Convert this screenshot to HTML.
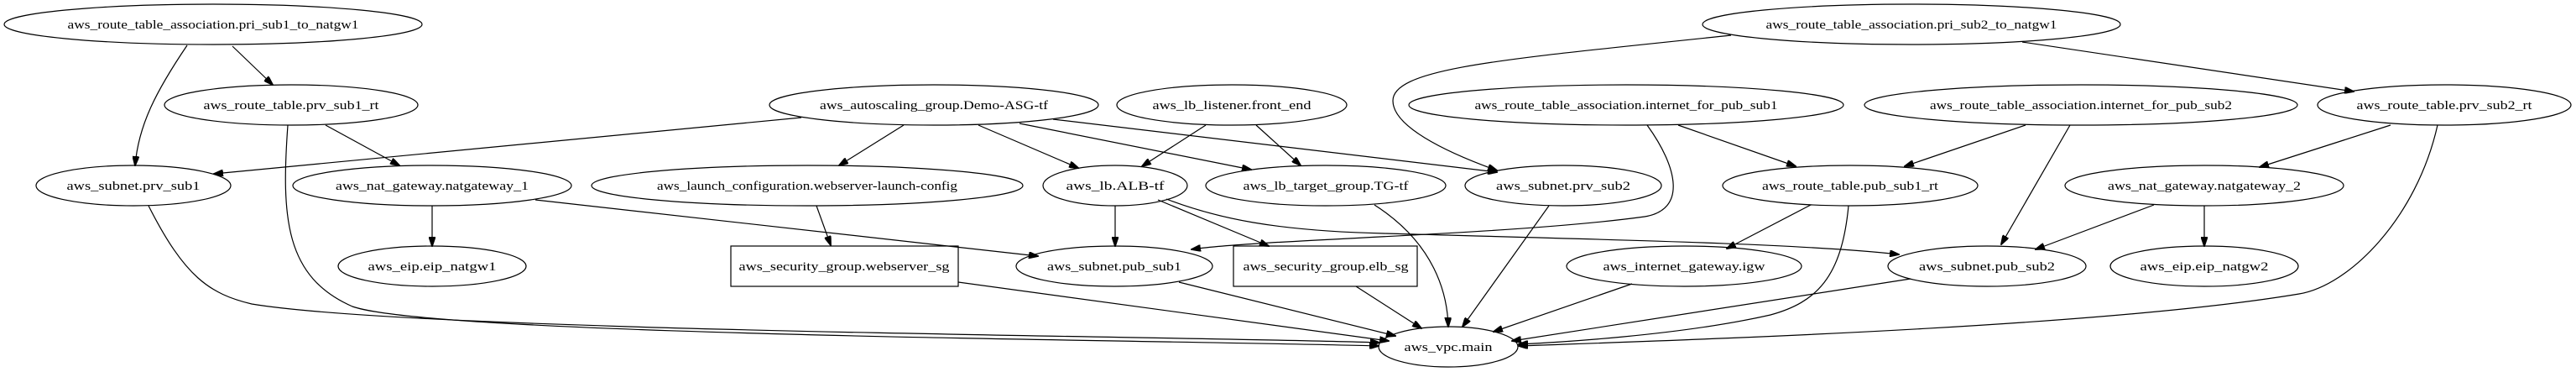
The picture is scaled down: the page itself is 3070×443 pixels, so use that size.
<!DOCTYPE html>
<html><head><meta charset="utf-8"><style>
html,body{margin:0;padding:0;background:#fff;}
svg{display:block;}
text{font-family:"Liberation Serif",serif;font-size:15px;text-anchor:middle;fill:#000;}
ellipse,rect{fill:none;stroke:#000;stroke-width:1.2;}
path{fill:none;stroke:#000;stroke-width:1.2;}
</style></head><body>
<svg width="3070" height="443" viewBox="0 0 3070 443" xmlns="http://www.w3.org/2000/svg">
<defs><marker id="a" markerWidth="12" markerHeight="8" refX="11" refY="4" orient="auto" markerUnits="userSpaceOnUse"><path d="M0,0 L12,4 L0,8 Z" style="fill:#000;stroke:#000"/></marker></defs>
<g marker-end="url(#a)">
<path d="M277,55 L325,101"/>
<path d="M223,54 C185,110 165,150 161,197"/>
<path d="M388,149 L476,197"/>
<path d="M343,149 C335,260 340,330 420,365 C520,400 1400,405 1643,412"/>
<path d="M177,245 C220,330 250,350 300,362 C500,395 1400,400 1644,408"/>
<path d="M955,140 L255,207"/>
<path d="M1077,149 L1000,197"/>
<path d="M1166,149 L1285,200"/>
<path d="M1215,147 L1491,202"/>
<path d="M1255,142 L1784,205"/>
<path d="M1437,149 L1361,198"/>
<path d="M1497,149 L1550,197"/>
<path d="M2063,42 C1800,70 1660,80 1660,120 C1660,150 1720,180 1784,203"/>
<path d="M2410,50 L2805,109"/>
<path d="M2000,149 L2140,198"/>
<path d="M1963,149 C2000,200 2010,250 1960,258 C1800,280 1500,285 1420,297"/>
<path d="M2414,149 L2270,198"/>
<path d="M2467,149 L2385,291"/>
<path d="M2849,149 L2693,199"/>
<path d="M2905,149 C2880,260 2800,340 2740,350 C2500,390 2000,405 1810,412"/>
<path d="M638,238 L1237,305"/>
<path d="M515,245 L515,293"/>
<path d="M973,245 L990,292"/>
<path d="M1329,245 L1329,293"/>
<path d="M1380,238 L1512,293"/>
<path d="M1390,237 C1450,260 1520,275 1650,278 C1900,285 2150,290 2263,303"/>
<path d="M1638,244 C1710,290 1725,350 1726,389"/>
<path d="M1846,245 L1743,389"/>
<path d="M2158,244 L2058,296"/>
<path d="M2203,245 C2195,330 2165,360 2110,375 C2000,400 1850,408 1810,410"/>
<path d="M2567,244 L2426,297"/>
<path d="M2627,245 L2627,293"/>
<path d="M1142,336 L1655,406"/>
<path d="M1405,336 L1663,400"/>
<path d="M1616,341 L1694,391"/>
<path d="M1945,338 L1780,395"/>
<path d="M2277,332 L1802,406"/>
</g>
<g style="fill:#fff">
<ellipse cx="254" cy="29" rx="249" ry="24"/><text x="254" y="34" textLength="347" lengthAdjust="spacingAndGlyphs">aws_route_table_association.pri_sub1_to_natgw1</text>
<ellipse cx="2278" cy="29" rx="249" ry="24"/><text x="2278" y="34" textLength="347" lengthAdjust="spacingAndGlyphs">aws_route_table_association.pri_sub2_to_natgw1</text>
<ellipse cx="347" cy="125" rx="151" ry="24"/><text x="347" y="130" textLength="209" lengthAdjust="spacingAndGlyphs">aws_route_table.prv_sub1_rt</text>
<ellipse cx="1113" cy="125" rx="196" ry="24"/><text x="1113" y="130" textLength="272" lengthAdjust="spacingAndGlyphs">aws_autoscaling_group.Demo-ASG-tf</text>
<ellipse cx="1468" cy="125" rx="137" ry="24"/><text x="1468" y="130" textLength="189" lengthAdjust="spacingAndGlyphs">aws_lb_listener.front_end</text>
<ellipse cx="1938" cy="125" rx="259" ry="24"/><text x="1938" y="130" textLength="361" lengthAdjust="spacingAndGlyphs">aws_route_table_association.internet_for_pub_sub1</text>
<ellipse cx="2480" cy="125" rx="258" ry="24"/><text x="2480" y="130" textLength="360" lengthAdjust="spacingAndGlyphs">aws_route_table_association.internet_for_pub_sub2</text>
<ellipse cx="2913" cy="125" rx="151" ry="24"/><text x="2913" y="130" textLength="209" lengthAdjust="spacingAndGlyphs">aws_route_table.prv_sub2_rt</text>
<ellipse cx="159" cy="221" rx="116" ry="24"/><text x="159" y="226" textLength="159" lengthAdjust="spacingAndGlyphs">aws_subnet.prv_sub1</text>
<ellipse cx="515" cy="221" rx="166" ry="24"/><text x="515" y="226" textLength="230" lengthAdjust="spacingAndGlyphs">aws_nat_gateway.natgateway_1</text>
<ellipse cx="962" cy="221" rx="257" ry="24"/><text x="962" y="226" textLength="358" lengthAdjust="spacingAndGlyphs">aws_launch_configuration.webserver-launch-config</text>
<ellipse cx="1329" cy="221" rx="86" ry="24"/><text x="1329" y="226" textLength="117" lengthAdjust="spacingAndGlyphs">aws_lb.ALB-tf</text>
<ellipse cx="1580" cy="221" rx="143" ry="24"/><text x="1580" y="226" textLength="197" lengthAdjust="spacingAndGlyphs">aws_lb_target_group.TG-tf</text>
<ellipse cx="1863" cy="221" rx="117" ry="24"/><text x="1863" y="226" textLength="160" lengthAdjust="spacingAndGlyphs">aws_subnet.prv_sub2</text>
<ellipse cx="2205" cy="221" rx="152" ry="24"/><text x="2205" y="226" textLength="210" lengthAdjust="spacingAndGlyphs">aws_route_table.pub_sub1_rt</text>
<ellipse cx="2627" cy="221" rx="166" ry="24"/><text x="2627" y="226" textLength="230" lengthAdjust="spacingAndGlyphs">aws_nat_gateway.natgateway_2</text>
<ellipse cx="515" cy="317" rx="112" ry="24"/><text x="515" y="322" textLength="153" lengthAdjust="spacingAndGlyphs">aws_eip.eip_natgw1</text>
<rect x="871" y="293" width="271" height="48"/><text x="1006" y="322" textLength="251" lengthAdjust="spacingAndGlyphs">aws_security_group.webserver_sg</text>
<ellipse cx="1328" cy="317" rx="117" ry="24"/><text x="1328" y="322" textLength="160" lengthAdjust="spacingAndGlyphs">aws_subnet.pub_sub1</text>
<rect x="1470" y="293" width="219" height="48"/><text x="1580" y="322" textLength="197" lengthAdjust="spacingAndGlyphs">aws_security_group.elb_sg</text>
<ellipse cx="2007" cy="317" rx="140" ry="24"/><text x="2007" y="322" textLength="193" lengthAdjust="spacingAndGlyphs">aws_internet_gateway.igw</text>
<ellipse cx="2368" cy="317" rx="118" ry="24"/><text x="2368" y="322" textLength="162" lengthAdjust="spacingAndGlyphs">aws_subnet.pub_sub2</text>
<ellipse cx="2627" cy="317" rx="112" ry="24"/><text x="2627" y="322" textLength="153" lengthAdjust="spacingAndGlyphs">aws_eip.eip_natgw2</text>
<ellipse cx="1726" cy="413" rx="83" ry="24"/><text x="1726" y="418" textLength="105" lengthAdjust="spacingAndGlyphs">aws_vpc.main</text>
</g>
</svg>
</body></html>
